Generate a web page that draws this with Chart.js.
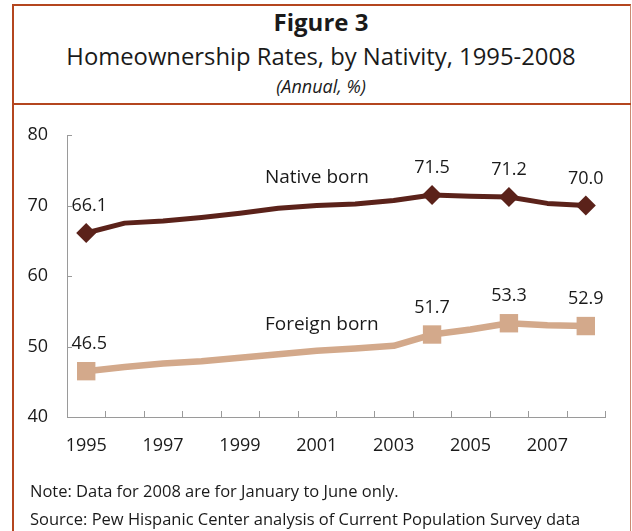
<!DOCTYPE html>
<html>
<head>
<meta charset="utf-8">
<script src="https://cdn.jsdelivr.net/npm/chart.js@4/dist/chart.umd.min.js"></script>
<style>
  html, body { margin: 0; padding: 0; background: #fff; }
  #wrap { position: relative; width: 632px; height: 531px; overflow: hidden; background: #fff; font-family: "Open Sans", sans-serif; color: #1a1a1a; }
  #frame { position: absolute; left: 12px; top: 4px; width: 616px; height: 600px; border-top: 2px solid #B4461F; border-left: 2px solid #B4461F; border-right: 1px solid #C98A72; }
  #divider { position: absolute; left: 12px; top: 103px; width: 619px; height: 0; border-top: 2px solid #B4461F; }
  .t { position: absolute; left: 14px; width: 614px; text-align: center; white-space: nowrap; }
  #t1 { top: 6px; font-size: 24px; font-weight: bold; line-height: 32px; }
  #t2 { top: 40px; font-size: 23.8px; line-height: 32px; }
  #t3 { top: 74px; font-size: 18px; font-style: italic; line-height: 24px; }
  .fn { position: absolute; left: 30px; font-size: 16.5px; line-height: 20px; white-space: nowrap; }
  #fn1 { top: 481px; }
  #fn2 { top: 509px; }
  canvas { position: absolute; left: 0; top: 0; }
</style>
</head>
<body>
<div id="wrap">
  <div id="frame"></div>
  <div id="divider"></div>
  <div class="t" id="t1">Figure 3</div>
  <div class="t" id="t2">Homeownership Rates, by Nativity, 1995-2008</div>
  <div class="t" id="t3">(Annual, %)</div>
  <canvas id="c" width="632" height="531"></canvas>
  <div class="fn" id="fn1">Note: Data for 2008 are for January to June only.</div>
  <div class="fn" id="fn2">Source: Pew Hispanic Center analysis of Current Population Survey data</div>
</div>
<script>
// ---- data ----
const years = ["1995","1996","1997","1998","1999","2000","2001","2002","2003","2004","2005","2006","2007","2008"];
const xTickLabels = ["1995","1997","1999","2001","2003","2005","2007"];
const yTicks = [40, 50, 60, 70, 80];
const nativeBorn = [66.1, 67.5, 67.8, 68.3, 68.9, 69.6, 70.0, 70.2, 70.7, 71.5, 71.3, 71.2, 70.3, 70.0];
const foreignBorn = [46.5, 47.1, 47.6, 47.9, 48.4, 48.9, 49.4, 49.7, 50.1, 51.7, 52.4, 53.3, 53.0, 52.9];
const markedYears = ["1995","2004","2006","2008"];
const seriesNames = ["Native born", "Foreign born"];

const NATIVE = "#5B221A";
const FOREIGN = "#D3A98B";
const FONT = "'Open Sans', sans-serif";

const isMarked = (i) => markedYears.includes(years[i]);

const innerTicks = {
  id: 'innerTicks',
  afterDraw(chart) {
    const ctx = chart.ctx, xs = chart.scales.x, ys = chart.scales.y;
    const a = chart.chartArea;
    ctx.save();
    ctx.strokeStyle = '#9a9a9a';
    ctx.lineWidth = 1;
    ctx.beginPath();
    for (let i = 1; i <= years.length; i++) {
      const p = i < years.length ? (xs.getPixelForValue(i - 1) + xs.getPixelForValue(i)) / 2 : a.right;
      const px = Math.round(p) + 0.5;
      ctx.moveTo(px, a.bottom); ctx.lineTo(px, a.bottom - 6);
    }
    yTicks.forEach(v => {
      if (v === ys.min) return;
      const py = Math.round(ys.getPixelForValue(v)) + 0.5;
      ctx.moveTo(a.left, py); ctx.lineTo(a.left + 5, py);
    });
    ctx.stroke();
    ctx.restore();
  }
};

const valueLabels = {
  id: 'valueLabels',
  afterDatasetsDraw(chart) {
    const ctx = chart.ctx, xs = chart.scales.x, ys = chart.scales.y;
    ctx.save();
    ctx.fillStyle = '#1a1a1a';
    ctx.font = "18px " + FONT;
    ctx.textAlign = 'center';
    ctx.textBaseline = 'middle';
    chart.data.datasets.forEach((ds, di) => {
      ds.data.forEach((v, i) => {
        if (!isMarked(i)) return;
        const x = xs.getPixelForValue(i) + (i === 0 ? 3 : 0);
        const y = ys.getPixelForValue(v) - 27;
        ctx.fillText(v.toFixed(1), x, y);
      });
    });
    // series name labels
    ctx.font = "19px " + FONT;
    ctx.textAlign = 'left';
    const lx = xs.getPixelForValue(4) + 0.65 * (xs.getPixelForValue(5) - xs.getPixelForValue(4));
    ctx.fillText(seriesNames[0], lx, ys.getPixelForValue(74.0));
    ctx.fillText(seriesNames[1], lx, ys.getPixelForValue(53.05));
    ctx.restore();
  }
};

function build() {
  new Chart(document.getElementById('c'), {
    type: 'line',
    data: {
      labels: years,
      datasets: [
        {
          label: seriesNames[0], data: nativeBorn,
          borderColor: NATIVE, backgroundColor: NATIVE, borderWidth: 5,
          tension: 0, borderJoinStyle: 'round', borderCapStyle: 'round',
          pointStyle: 'rectRot',
          pointRadius: years.map((y, i) => isMarked(i) ? 10 : 0),
          pointBorderWidth: 0,
          pointBackgroundColor: NATIVE
        },
        {
          label: seriesNames[1], data: foreignBorn,
          borderColor: FOREIGN, backgroundColor: FOREIGN, borderWidth: 6.5,
          tension: 0, borderJoinStyle: 'round', borderCapStyle: 'butt',
          pointStyle: 'rect',
          pointRadius: years.map((y, i) => isMarked(i) ? 13 : 0),
          pointBorderWidth: 0,
          pointBackgroundColor: FOREIGN
        }
      ]
    },
    options: {
      responsive: false,
      animation: false,
      devicePixelRatio: 1,
      layout: { padding: { left: 0, right: 27, top: 135, bottom: 64 } },
      plugins: { legend: { display: false }, tooltip: { enabled: false }, title: { display: false } },
      scales: {
        x: {
          type: 'category', offset: true,
          grid: { display: false, drawTicks: false, offset: true },
          border: { display: true, color: '#9a9a9a', width: 1 },
          ticks: {
            autoSkip: false, maxRotation: 0, padding: 18,
            color: '#1a1a1a', font: { family: FONT, size: 18 },
            callback: function(v, i) { const l = years[i]; return xTickLabels.includes(l) ? l : ''; }
          },
          afterFit(s) { s.height = 50; }
        },
        y: {
          min: 40, max: 80,
          grid: { display: false, drawTicks: false },
          border: { display: true, color: '#9a9a9a', width: 1 },
          ticks: {
            stepSize: 10, padding: 19,
            color: '#1a1a1a', font: { family: FONT, size: 18 }
          },
          afterFit(s) { s.width = 67; }
        }
      }
    },
    plugins: [innerTicks, valueLabels]
  });
}
if (document.fonts && document.fonts.load) {
  Promise.all([
    document.fonts.load("18px 'Open Sans'"),
    document.fonts.load("bold 24px 'Open Sans'"),
    document.fonts.load("italic 17px 'Open Sans'")
  ]).then(build, build);
} else { build(); }
</script>
</body>
</html>
